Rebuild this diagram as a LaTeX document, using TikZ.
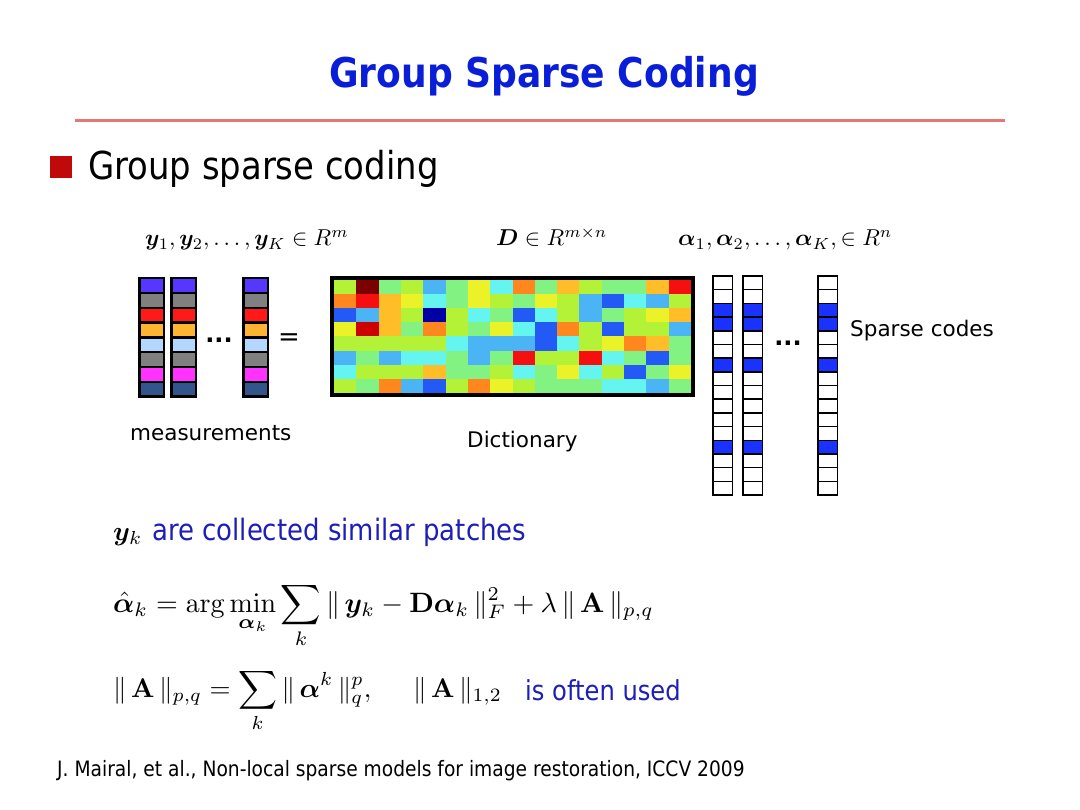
\documentclass[tikz,border=0pt]{standalone}
\usepackage{graphicx}
\usepackage{amsmath}
\usepackage{bm}
\usepackage[no-math]{fontspec}
\setmainfont{DejaVu Sans}
\newfontfamily\tah{DejaVu Sans}[FakeStretch=0.88]
\definecolor{titleblue}{RGB}{10,30,215}
\definecolor{txtblue}{RGB}{30,30,185}
\definecolor{rulered}{RGB}{230,120,115}
\definecolor{bulletred}{RGB}{192,10,10}
% measurement colours
\definecolor{mA}{RGB}{85,55,255}
\definecolor{mB}{RGB}{128,128,128}
\definecolor{mC}{RGB}{255,25,25}
\definecolor{mD}{RGB}{255,180,50}
\definecolor{mE}{RGB}{180,215,255}
\definecolor{mG}{RGB}{255,50,255}
\definecolor{mH}{RGB}{50,85,140}
% jet-like dictionary colours
\definecolor{DR}{RGB}{125,0,0}
\definecolor{R}{RGB}{245,15,15}
\definecolor{Rd}{RGB}{205,0,0}
\definecolor{O}{RGB}{255,135,30}
\definecolor{Y}{RGB}{255,190,40}
\definecolor{Yl}{RGB}{235,242,40}
\definecolor{YG}{RGB}{180,242,55}
\definecolor{G}{RGB}{130,242,130}
\definecolor{C}{RGB}{100,245,240}
\definecolor{LB}{RGB}{75,180,245}
\definecolor{B}{RGB}{35,90,245}
\definecolor{DB}{RGB}{0,0,165}
\definecolor{codeblue}{RGB}{25,50,255}
\newcommand{\mscale}[2]{\scalebox{#1}{#2}}
\tikzset{
  lbl/.style={anchor=base west, inner sep=0pt, font=\fontsize{21.5}{24}\selectfont},
  mathlbl/.style={anchor=base west, inner sep=0pt},
  eqn/.style={anchor=base west, inner sep=0pt},
  bluetxt/.style={anchor=base west, inner sep=0pt, text=txtblue},
  codecell/.style={draw=black, line width=1.5pt},
  dots/.style={inner sep=0pt, font=\bfseries\fontsize{24}{24}\selectfont}
}
\begin{document}
\begin{tikzpicture}[x=1pt,y=-1pt]
\useasboundingbox (0,0) rectangle (1080,810);
\fill[white] (0,0) rectangle (1080,810);

% title
\node[anchor=base, inner sep=0pt, text=titleblue, font=\tah\bfseries\fontsize{41}{44}\selectfont] (title) at (544,88) {Group Sparse Coding};
\draw[line width=3pt, rulered] (75,121) -- (1005,121);

% bullet
\fill[bulletred] (50,156) rectangle (72,178);
\node[anchor=base west, inner sep=0pt, font=\tah\fontsize{38.5}{42}\selectfont] (bullet) at (88,180) {Group sparse coding};

% math labels
\node[mathlbl] (ylbl) at (145,246) {\mscale{2.3}{$\bm{y}_1, \bm{y}_2, \ldots, \bm{y}_K \in R^m$}};
\node[mathlbl] (dlbl) at (496,246) {\mscale{2.3}{$\bm{D} \in R^{m\times n}$}};
\node[mathlbl] (albl) at (678,246) {\mscale{2.3}{$\bm{\alpha}_1, \bm{\alpha}_2, \ldots, \bm{\alpha}_K, \in R^n$}};

% measurement columns
\foreach \cx in {138,170,242} {
  \fill[black] (\cx,277) rectangle ++(27,121);
  \foreach \c [count=\i from 0] in {mA,mB,mC,mD,mE,mB,mG,mH} {
    \fill[\c] (\cx+2.5,{277+2.5+\i*14.8}) rectangle ++(22,12.3);
  }
}
\node[dots] (mdots) at (219,340) {...};
\node[inner sep=0pt, font=\fontsize{26}{26}\selectfont] (eq) at (289,340) {=};

% dictionary
\def\dx{22.3125}
\def\dy{14.125}
\foreach \row [count=\r from 0] in {
  {YG,DR,G,YG,LB,G,Yl,C,O,G,Y,YG,G,G,Y,R},
  {O,R,Y,Yl,C,G,Yl,YG,G,Yl,YG,LB,B,C,LB,YG},
  {B,LB,Y,YG,DB,YG,C,G,B,C,YG,LB,G,YG,Yl,Y},
  {Yl,Rd,Y,G,O,YG,G,Yl,C,B,O,YG,B,YG,YG,LB},
  {YG,YG,YG,YG,YG,C,LB,LB,LB,B,C,YG,Yl,O,Y,G},
  {LB,G,LB,C,C,G,LB,G,R,YG,YG,R,C,G,B,G},
  {C,YG,YG,YG,Y,G,G,YG,C,G,Yl,C,YG,B,G,Yl},
  {YG,G,O,LB,B,YG,O,Yl,YG,G,G,G,C,C,LB,G}} {
  \foreach \c [count=\k from 0] in \row {
    \fill[\c] ({334+\k*\dx},{280+\r*\dy}) rectangle ++(\dx+0.3,\dy+0.3);
  }
}
\draw[line width=4pt] (332,278) rectangle (693,395);

% sparse codes
\foreach \cx in {713,743,818} {
  \foreach \i in {0,...,15} {
    \pgfmathsetmacro{\isblue}{(\i==2 || \i==3 || \i==6 || \i==12) ? 1 : 0}
    \ifdim\isblue pt>0.5pt
      \draw[codecell, fill=codeblue] (\cx,{276+\i*13.69}) rectangle ++(19.5,13.69);
    \else
      \draw[codecell, fill=white] (\cx,{276+\i*13.69}) rectangle ++(19.5,13.69);
    \fi
  }
}
\node[dots] (cdots) at (788,343) {...};

% labels
\node[lbl] (sparse) at (850,337) {Sparse codes};
\node[lbl] (meas) at (130,441) {measurements};
\node[lbl] (dict) at (467,448) {Dictionary};

% y_k line
\node[anchor=base west, inner sep=0pt] (yk) at (113,540) {\mscale{2.7}{$\bm{y}_k$}};
\node[bluetxt, font=\tah\fontsize{29.5}{32}\selectfont] (collected) at (152,540) {are collected similar patches};

% equations
\node[eqn] (eq1) at (113,612) {\mscale{2.8}{$\displaystyle \hat{\bm{\alpha}}_k = \arg\min_{\bm{\alpha}_k} \sum_k \|\, \bm{y}_k - \mathbf{D}\bm{\alpha}_k \,\|_F^2 + \lambda \,\|\, \mathbf{A} \,\|_{p,q}$}};
\node[eqn] (eq2a) at (113,697) {\mscale{2.7}{$\displaystyle \|\, \mathbf{A} \,\|_{p,q} = \sum_k \|\, \bm{\alpha}^k \,\|_q^p,$}};
\node[eqn] (eq2b) at (413,697) {\mscale{2.7}{$\|\, \mathbf{A} \,\|_{1,2}$}};
\node[bluetxt, font=\tah\fontsize{27.5}{30}\selectfont] (often) at (525,700) {is often used};

% citation
\node[anchor=base west, inner sep=0pt, font=\tah\fontsize{21.2}{24}\selectfont] (cite) at (57,776) {J. Mairal, et al., Non-local sparse models for image restoration, ICCV 2009};
\end{tikzpicture}
\end{document}
